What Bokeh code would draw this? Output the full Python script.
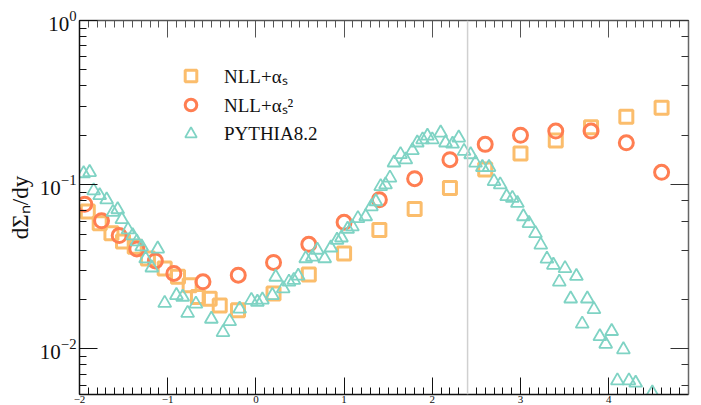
from bokeh.plotting import figure
from bokeh.models import (Range1d, LinearAxis, LogAxis, SingleIntervalTicker, LogTicker,
                          Span, Legend, LegendItem)
from bokeh.embed import file_html
from bokeh.resources import INLINE

# ---------------- data ----------------
nll1_x = [-1.906, -1.771, -1.638, -1.507, -1.374, -1.224, -1.034, -0.883, -0.751, -0.657,
          -0.524, -0.41, -0.203, 0.2, 0.6, 1.0, 1.4, 1.8, 2.2, 2.6, 3.0, 3.4, 3.8, 4.2, 4.6]
nll1_y = [0.0687, 0.0582, 0.0506, 0.045, 0.0419, 0.0355, 0.0309, 0.0275, 0.0244, 0.0207,
          0.0202, 0.0184, 0.0172, 0.0217, 0.0284, 0.0381, 0.0529, 0.0712, 0.0953, 0.1236,
          0.155, 0.186, 0.224, 0.259, 0.294]

nll2_x = [-1.94, -1.75, -1.55, -1.35, -1.14, -0.93, -0.60, -0.20, 0.2, 0.6, 1.0, 1.4, 1.8,
          2.2, 2.6, 3.0, 3.4, 3.8, 4.2, 4.6]
nll2_y = [0.076, 0.0603, 0.049, 0.0406, 0.0343, 0.0288, 0.0256, 0.0281, 0.0336, 0.0433,
          0.059, 0.0809, 0.1088, 0.142, 0.176, 0.200, 0.212, 0.212, 0.180, 0.119]

py_x = [-1.953, -1.885, -1.839, -1.771, -1.692, -1.62, -1.567, -1.52, -1.45, -1.397,
        -1.35, -1.295, -1.25, -1.18, -1.113, -1.034, -0.901, -0.83, -0.774, -0.68,
        -0.505, -0.373, -0.297, -0.184, -0.051, 0.017, 0.074, 0.187, 0.225, 0.31,
        0.375, 0.43, 0.48, 0.565, 0.64, 0.697, 0.78, 0.85, 0.92, 0.97,
        1.04, 1.094, 1.157, 1.245, 1.31, 1.36, 1.415, 1.47, 1.52, 1.566,
        1.64, 1.70, 1.775, 1.83, 1.89, 1.945, 2.00, 2.095, 2.15, 2.23,
        2.30, 2.36, 2.435, 2.49, 2.568, 2.643, 2.70, 2.77, 2.843, 2.908,
        2.965, 3.033, 3.096, 3.17, 3.23, 3.30, 3.373, 3.44, 3.505, 3.569,
        3.634, 3.70, 3.758, 3.833, 3.90, 3.966, 4.034, 4.099, 4.167, 4.23,
        4.306, 4.495]
py_y = [0.117, 0.119, 0.092, 0.086, 0.081, 0.068, 0.0706, 0.0614, 0.0532, 0.049,
        0.045, 0.0419, 0.0354, 0.0312, 0.0407, 0.019, 0.0212, 0.0207, 0.0165, 0.0188,
        0.0152, 0.0126, 0.0147, 0.0175, 0.0198, 0.0193, 0.0199, 0.0212, 0.0274, 0.0233,
        0.0256, 0.0262, 0.0278, 0.0355, 0.0363, 0.040, 0.0355, 0.0413, 0.046, 0.0475,
        0.0537, 0.0555, 0.0623, 0.064, 0.0736, 0.079, 0.0977, 0.100, 0.110, 0.136,
        0.153, 0.142, 0.1616, 0.180, 0.188, 0.198, 0.188, 0.207, 0.180, 0.177,
        0.193, 0.160, 0.1527, 0.1357, 0.1276, 0.1276, 0.1048, 0.100, 0.0848, 0.0828,
        0.0771, 0.064, 0.0582, 0.0505, 0.043, 0.0353, 0.0324, 0.0256, 0.0309, 0.0202,
        0.0277, 0.0142, 0.0202, 0.0174, 0.0119, 0.0107, 0.0128, 0.0064, 0.0099, 0.0064,
        0.0062, 0.0054]

labels = ["NLL+\u03b1\u209b", "NLL+\u03b1\u209b\u00b2", "PYTHIA8.2"]
y_title = "d\u03a3\u2099/dy"
vline_x = 2.4

# ---------------- layout ----------------
FL, FT, FR, FB = 79, 20, 688, 392
PX_PER_DEC = 163.3
y_top = 1.0
y_bot = 10 ** (-(FB - FT) / PX_PER_DEC)
x_lo, x_hi = -2.0, 4.905

SERIF = "Liberation Serif"
C_SQ = "#FBBD6C"
C_CI = "#FF7E52"
C_TR = "#7FD3C4"

p = figure(width=701, height=405, output_backend="svg", toolbar_location=None,
           y_axis_type="log", x_range=Range1d(x_lo, x_hi), y_range=Range1d(y_bot, y_top),
           min_border_left=FL, min_border_right=701 - FR, min_border_top=FT,
           min_border_bottom=0, outline_line_color=None)
p.grid.visible = False
p.background_fill_color = "white"
p.border_fill_color = "white"

xt = SingleIntervalTicker(interval=1, num_minor_ticks=10)
p.xaxis.ticker = xt
for ax in p.xaxis:
    ax.major_tick_in = 17
    ax.major_tick_out = 0
    ax.minor_tick_in = 7
    ax.minor_tick_out = 0
    ax.axis_line_color = "#111111"
    ax.major_tick_line_color = "#111111"
    ax.minor_tick_line_color = "#111111"
    ax.axis_line_width = 1.5
    ax.major_label_text_font = SERIF
    ax.major_label_text_font_size = "11px"
    ax.major_label_standoff = 1
    ax.major_label_text_color = "#111111"

for ax in p.yaxis:
    ax.major_tick_in = 18
    ax.major_tick_out = 0
    ax.minor_tick_in = 7
    ax.minor_tick_out = 0
    ax.axis_line_color = "#111111"
    ax.major_tick_line_color = "#111111"
    ax.minor_tick_line_color = "#111111"
    ax.axis_line_width = 1.5
    ax.major_label_text_font = SERIF
    ax.major_label_text_font_size = "21px"
    ax.major_label_standoff = 3
    ax.major_label_text_color = "#111111"
    ax.axis_label = y_title
    ax.axis_label_text_font = SERIF
    ax.axis_label_text_font_size = "23px"
    ax.axis_label_text_font_style = "normal"
    ax.axis_label_text_color = "#111111"
    ax.axis_label_standoff = 4

top = LinearAxis(ticker=SingleIntervalTicker(interval=1, num_minor_ticks=10),
                 major_tick_in=17, major_tick_out=0, minor_tick_in=7, minor_tick_out=0,
                 axis_line_color="#555555", major_tick_line_color="#555555",
                 minor_tick_line_color="#555555", axis_line_width=1.5,
                 major_label_text_font_size="4px", major_label_text_color=None,
                 major_label_standoff=0)
p.add_layout(top, "above")
right = LogAxis(ticker=LogTicker(), major_tick_in=18, major_tick_out=0,
                minor_tick_in=7, minor_tick_out=0,
                axis_line_color="#666666", major_tick_line_color="#333333",
                minor_tick_line_color="#333333", axis_line_width=1.5,
                major_label_text_font_size="4px", major_label_text_color=None,
                major_label_standoff=0)
p.add_layout(right, "right")

p.add_layout(Span(location=vline_x, dimension="height", line_color="#d0d0d0", line_width=1.5))

r_sq = p.scatter(nll1_x, nll1_y, marker="square", size=13, line_color=C_SQ, line_width=3,
                 fill_color=None)
r_ci = p.scatter(nll2_x, nll2_y, marker="circle", size=14, line_color=C_CI, line_width=3,
                 fill_color=None)
r_tr = p.scatter(py_x, py_y, marker="triangle", size=13, line_color=C_TR, line_width=1.8,
                 fill_color=None)

# legend
leg_left, leg_top = 176, 59
leg = Legend(items=[LegendItem(label=labels[0], renderers=[r_sq]),
                    LegendItem(label=labels[1], renderers=[r_ci]),
                    LegendItem(label=labels[2], renderers=[r_tr])],
             location=(leg_left - FL, FB - (leg_top + 87)),
             glyph_width=29, glyph_height=29, label_height=20, label_standoff=19,
             spacing=0, padding=0, margin=0, border_line_color=None,
             background_fill_alpha=0, label_text_font=SERIF,
             label_text_font_size="19px", label_text_color="#111111")
p.add_layout(leg)

open("out.html", "w").write(file_html(p, INLINE))
